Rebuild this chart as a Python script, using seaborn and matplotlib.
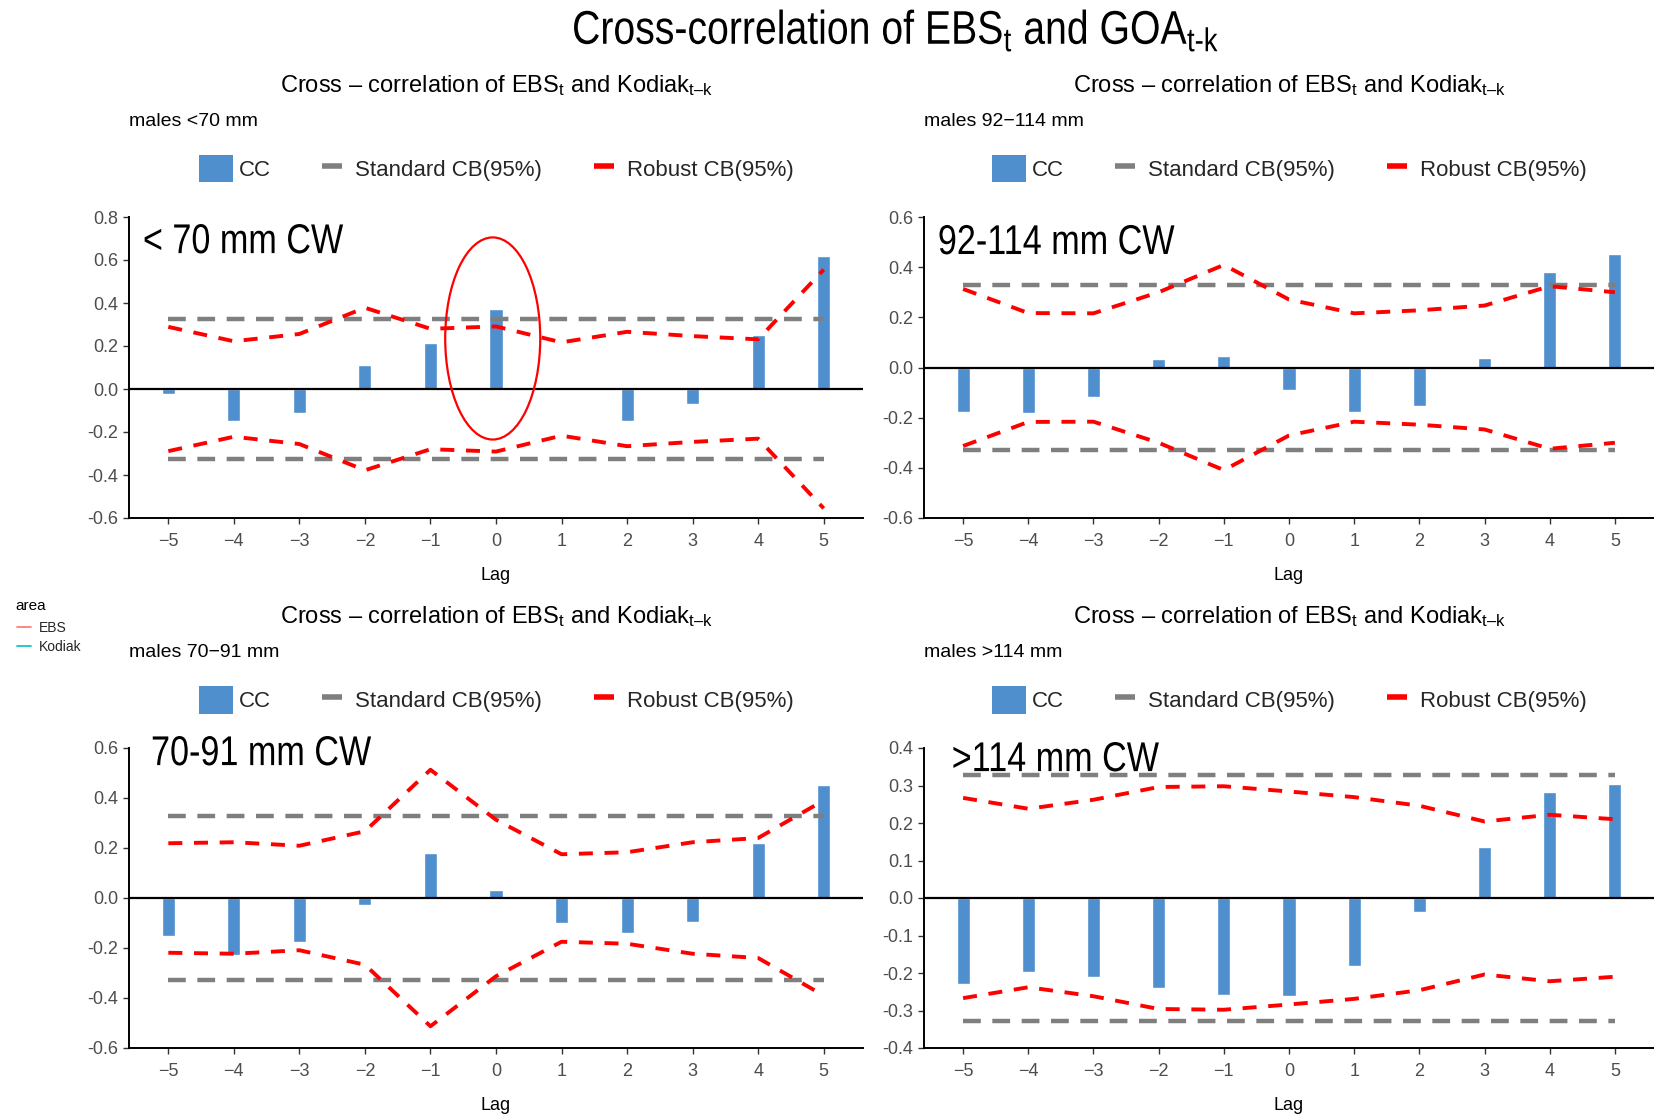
import numpy as np
import pandas as pd
import matplotlib
matplotlib.use("Agg")
import matplotlib.pyplot as plt
import seaborn as sns
from matplotlib.patches import Ellipse, Patch
from matplotlib.lines import Line2D
from matplotlib.patheffects import AbstractPathEffect
from matplotlib.transforms import Affine2D

# ---------------- data ----------------
lags = [-5, -4, -3, -2, -1, 0, 1, 2, 3, 4, 5]
std_cb = 0.327

cc_lt70 = [-0.023, -0.147, -0.113, 0.112, 0.214, 0.370, -0.003, -0.147, -0.068, 0.251, 0.617]
rob_lt70 = [0.289, 0.222, 0.256, 0.378, 0.280, 0.291, 0.217, 0.266, 0.246, 0.231, 0.555]

cc_92_114 = [-0.179, -0.183, -0.116, 0.033, 0.045, -0.091, -0.179, -0.152, 0.037, 0.379, 0.453]
rob_92_114 = [0.313, 0.217, 0.216, 0.300, 0.409, 0.271, 0.216, 0.228, 0.247, 0.324, 0.300]

cc_70_91 = [-0.153, -0.228, -0.177, -0.027, 0.180, 0.033, -0.100, -0.139, -0.096, 0.221, 0.453]
rob_70_91 = [0.219, 0.223, 0.209, 0.267, 0.513, 0.313, 0.175, 0.183, 0.223, 0.240, 0.390]

cc_gt114 = [-0.228, -0.198, -0.211, -0.239, -0.258, -0.260, -0.180, -0.038, 0.136, 0.282, 0.305]
rob_gt114 = [0.267, 0.238, 0.262, 0.296, 0.298, 0.284, 0.269, 0.246, 0.204, 0.222, 0.210]

subtitles = ["males <70 mm", "males 92\u2212114 mm", "males 70\u221291 mm", "males >114 mm"]
labels_cw = ["< 70 mm CW", "92-114 mm CW", "70-91 mm CW", ">114 mm CW"]
legend_labels = ["CC", "Standard CB(95%)", "Robust CB(95%)"]
area_labels = ["EBS", "Kodiak"]

BLUE = "#4F8FCD"
RED = "#FF0000"
GRAY = "#7F7F7F"


class HSquash(AbstractPathEffect):
    """Draw text horizontally condensed (narrow-font look)."""

    def __init__(self, sx=0.82, anchor="left"):
        super().__init__()
        self.sx = sx
        self.anchor = anchor

    def draw_path(self, renderer, gc, tpath, affine, rgbFace=None):
        v = tpath.vertices
        cx = 0.0
        if len(v):
            xmin, xmax = v[:, 0].min(), v[:, 0].max()
            cx = {"left": 0.0, "center": (xmin + xmax) / 2, "right": xmax}[self.anchor]
        pre = Affine2D().translate(-cx, 0).scale(self.sx, 1.0).translate(cx, 0)
        renderer.draw_path(gc, tpath, pre + affine, rgbFace)


# ---------------- style ----------------
sns.set_theme(style="white")
plt.rcParams["font.family"] = ["Liberation Sans", "DejaVu Sans"]
plt.rcParams["mathtext.fontset"] = "custom"
plt.rcParams["mathtext.rm"] = "Liberation Sans"
plt.rcParams["mathtext.it"] = "Liberation Sans"
plt.rcParams["mathtext.bf"] = "Liberation Sans"

W, H = 1654, 1116
fig = plt.figure(figsize=(W / 100, H / 100), dpi=100)
fig.patch.set_facecolor("white")

boxes = [
    [129 / W, 1 - 518 / H, 734 / W, 301 / H],
    [924 / W, 1 - 518 / H, 730 / W, 301 / H],
    [129 / W, 1 - 1048 / H, 734 / W, 300 / H],
    [924 / W, 1 - 1048 / H, 730 / W, 300 / H],
]
panels = [
    (cc_lt70, rob_lt70, (-0.6, 0.8), np.arange(-0.6, 0.81, 0.2), (0.019, 0.880)),
    (cc_92_114, rob_92_114, (-0.6, 0.6), np.arange(-0.6, 0.61, 0.2), (0.019, 0.877)),
    (cc_70_91, rob_70_91, (-0.6, 0.6), np.arange(-0.6, 0.61, 0.2), (0.030, 0.943)),
    (cc_gt114, rob_gt114, (-0.4, 0.4), np.arange(-0.4, 0.41, 0.1), (0.038, 0.923)),
]
title_txt = "Cross \u2013 correlation of EBS$_{\\rm t}$ and Kodiak$_{\\rm t\u2013k}$"

for i, (box, (cc, rob, ylim, yt, lab_xy)) in enumerate(zip(boxes, panels)):
    ax = fig.add_axes(box)
    df = pd.DataFrame({"lag": lags, "cc": cc})
    sns.barplot(data=df, x="lag", y="cc", native_scale=True, width=0.2,
                color=BLUE, saturation=1, errorbar=None, ax=ax, zorder=2)
    ax.hlines([std_cb, -std_cb], lags[0], lags[-1], colors=GRAY, linewidth=3.2,
              linestyles=[(0, (4, 2.6))], zorder=3)
    rob_df = pd.DataFrame({"lag": lags, "up": rob, "lo": [-v for v in rob]})
    sns.lineplot(data=rob_df, x="lag", y="up", color=RED, linewidth=2.8,
                 linestyle=(0, (3.6, 3.0)), ax=ax, zorder=4)
    sns.lineplot(data=rob_df, x="lag", y="lo", color=RED, linewidth=2.8,
                 linestyle=(0, (3.6, 3.0)), ax=ax, zorder=4)
    ax.axhline(0, color="black", linewidth=1.6, zorder=3)

    ax.set_xlim(-5.6, 5.6)
    ax.set_ylim(*ylim)
    ax.set_xticks(lags)
    ax.set_xticklabels([str(l).replace("-", "\u2212") for l in lags])
    ax.set_yticks(yt)
    ax.set_yticklabels(["{:.1f}".format(v).replace("-0.0", "0.0") for v in yt])
    ax.tick_params(axis="both", bottom=True, left=True, length=4, width=1,
                   color="#333333", labelcolor="#4D4D4D", labelsize=13, pad=4)
    ax.tick_params(axis="x", pad=7)
    for s in ["top", "right"]:
        ax.spines[s].set_visible(False)
    for s in ["left", "bottom"]:
        ax.spines[s].set_color("black")
        ax.spines[s].set_linewidth(1.4)
    ax.set_xlabel("Lag", fontsize=13, color="black", labelpad=12)
    ax.set_ylabel("")
    ax.grid(False)

    ax.text(0.5, 1.437, title_txt, transform=ax.transAxes, ha="center", va="center",
            fontsize=17, color="black")
    ax.text(0.0, 1.318, subtitles[i], transform=ax.transAxes, ha="left", va="center",
            fontsize=14, color="black")
    t = ax.text(lab_xy[0], lab_xy[1], labels_cw[i], transform=ax.transAxes, ha="left",
                va="baseline", fontsize=30, color="black")
    t.set_path_effects([HSquash(0.82, "left")])

    handles = [
        Patch(facecolor=BLUE, edgecolor="none"),
        Line2D([], [], color=GRAY, marker="_", markersize=15, markeredgewidth=4, linestyle="none"),
        Line2D([], [], color=RED, marker="_", markersize=15, markeredgewidth=4, linestyle="none"),
    ]
    ax.legend(handles, legend_labels, ncol=3, loc="center", bbox_to_anchor=(0.5, 1.16),
              frameon=False, fontsize=16, handlelength=1.55, handleheight=1.5,
              handletextpad=0.25, columnspacing=2.0, borderaxespad=0)

    if i == 0:
        ax.add_patch(Ellipse((-0.05, 0.235), 1.45, 0.94, fill=False, edgecolor=RED,
                             linewidth=1.6, zorder=5))

# main title
mt = fig.text(896 / W, 1 - 44 / H, "Cross-correlation of EBS$_{\\rm t}$ and GOA$_{\\rm t\\text{-}k}$",
              ha="center", va="baseline", fontsize=34, color="black")
mt.set_path_effects([HSquash(0.83, "center")])

# area legend
fig.text(15 / W, 1 - 606 / H, "area", ha="left", va="center", fontsize=11, color="black")
area_handles = [Line2D([0], [0], color="#F8766D", linewidth=1.2),
                Line2D([0], [0], color="#00BFC4", linewidth=1.2)]
fig.legend(area_handles, area_labels, loc="upper left",
           bbox_to_anchor=(17 / W, 1 - 621 / H), frameon=False, fontsize=10,
           handlelength=1.0, handletextpad=0.6, labelspacing=0.35,
           borderpad=0, borderaxespad=0)

fig.savefig("out.png", dpi=100, facecolor="white")
